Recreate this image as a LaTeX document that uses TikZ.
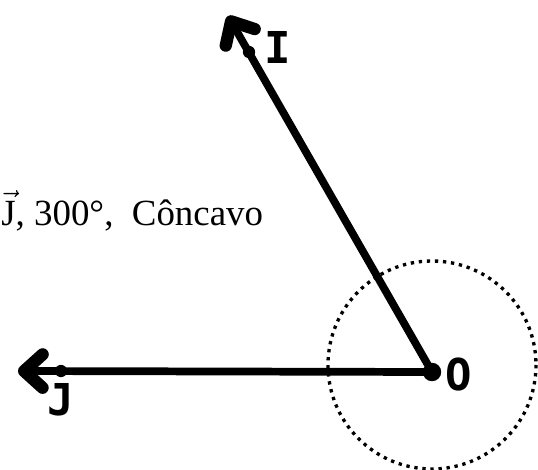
\documentclass[tikz,border=0pt]{standalone}
\usepackage{fontspec}
\setmainfont{Liberation Serif}
\newfontfamily\ptfont{DejaVu Sans Mono}
\usetikzlibrary{arrows.meta}
\definecolor{Ink}{HTML}{000000}

\begin{document}
\begin{tikzpicture}[x=0.02cm, y=-0.02cm,
    ray/.style={draw=Ink, line width=4.4pt, line cap=round,
      -{Straight Barb[length=10.5pt, width=19pt, line width=7pt, round]}},
    pt/.style={circle, fill=Ink, inner sep=0pt, minimum size=#1},
    ptlabel/.style={font=\ptfont\bfseries\fontsize{25}{25}\selectfont, text=Ink, inner sep=0pt}]
  \useasboundingbox (0,0) rectangle (538,470);
  % Angle arc
  \draw[Ink, line width=1.9pt, dash pattern=on 1.9pt off 2.7pt] (432,365) circle (104);
  % Points
  \coordinate (O) at (432,372);
  \coordinate (I) at (249,52);
  \coordinate (J) at (61,371);
  \coordinate (tipI) at (228,16);
  \coordinate (tipJ) at (18,371);
  % Rays
  \draw[ray] (O) -- (tipI);
  \draw[ray] (O) -- (tipJ);
  \node[pt=10.5pt] (o) at (O) {};
  \node[pt=7pt] (i) at (I) {};
  \node[pt=7pt] (j) at (J) {};
  % Labels
  \node[ptlabel] (lo) at (459,375) {O};
  \node[ptlabel] (li) at (278,47) {I};
  \node[ptlabel] (lj) at (61,400) {J};
  \node[anchor=base west, inner sep=0pt, font=\fontsize{21}{21}\selectfont] (txt) at (1,225)
    {$\vec{\mathrm{J}}$, 300°,~~Côncavo};
\end{tikzpicture}
\end{document}
